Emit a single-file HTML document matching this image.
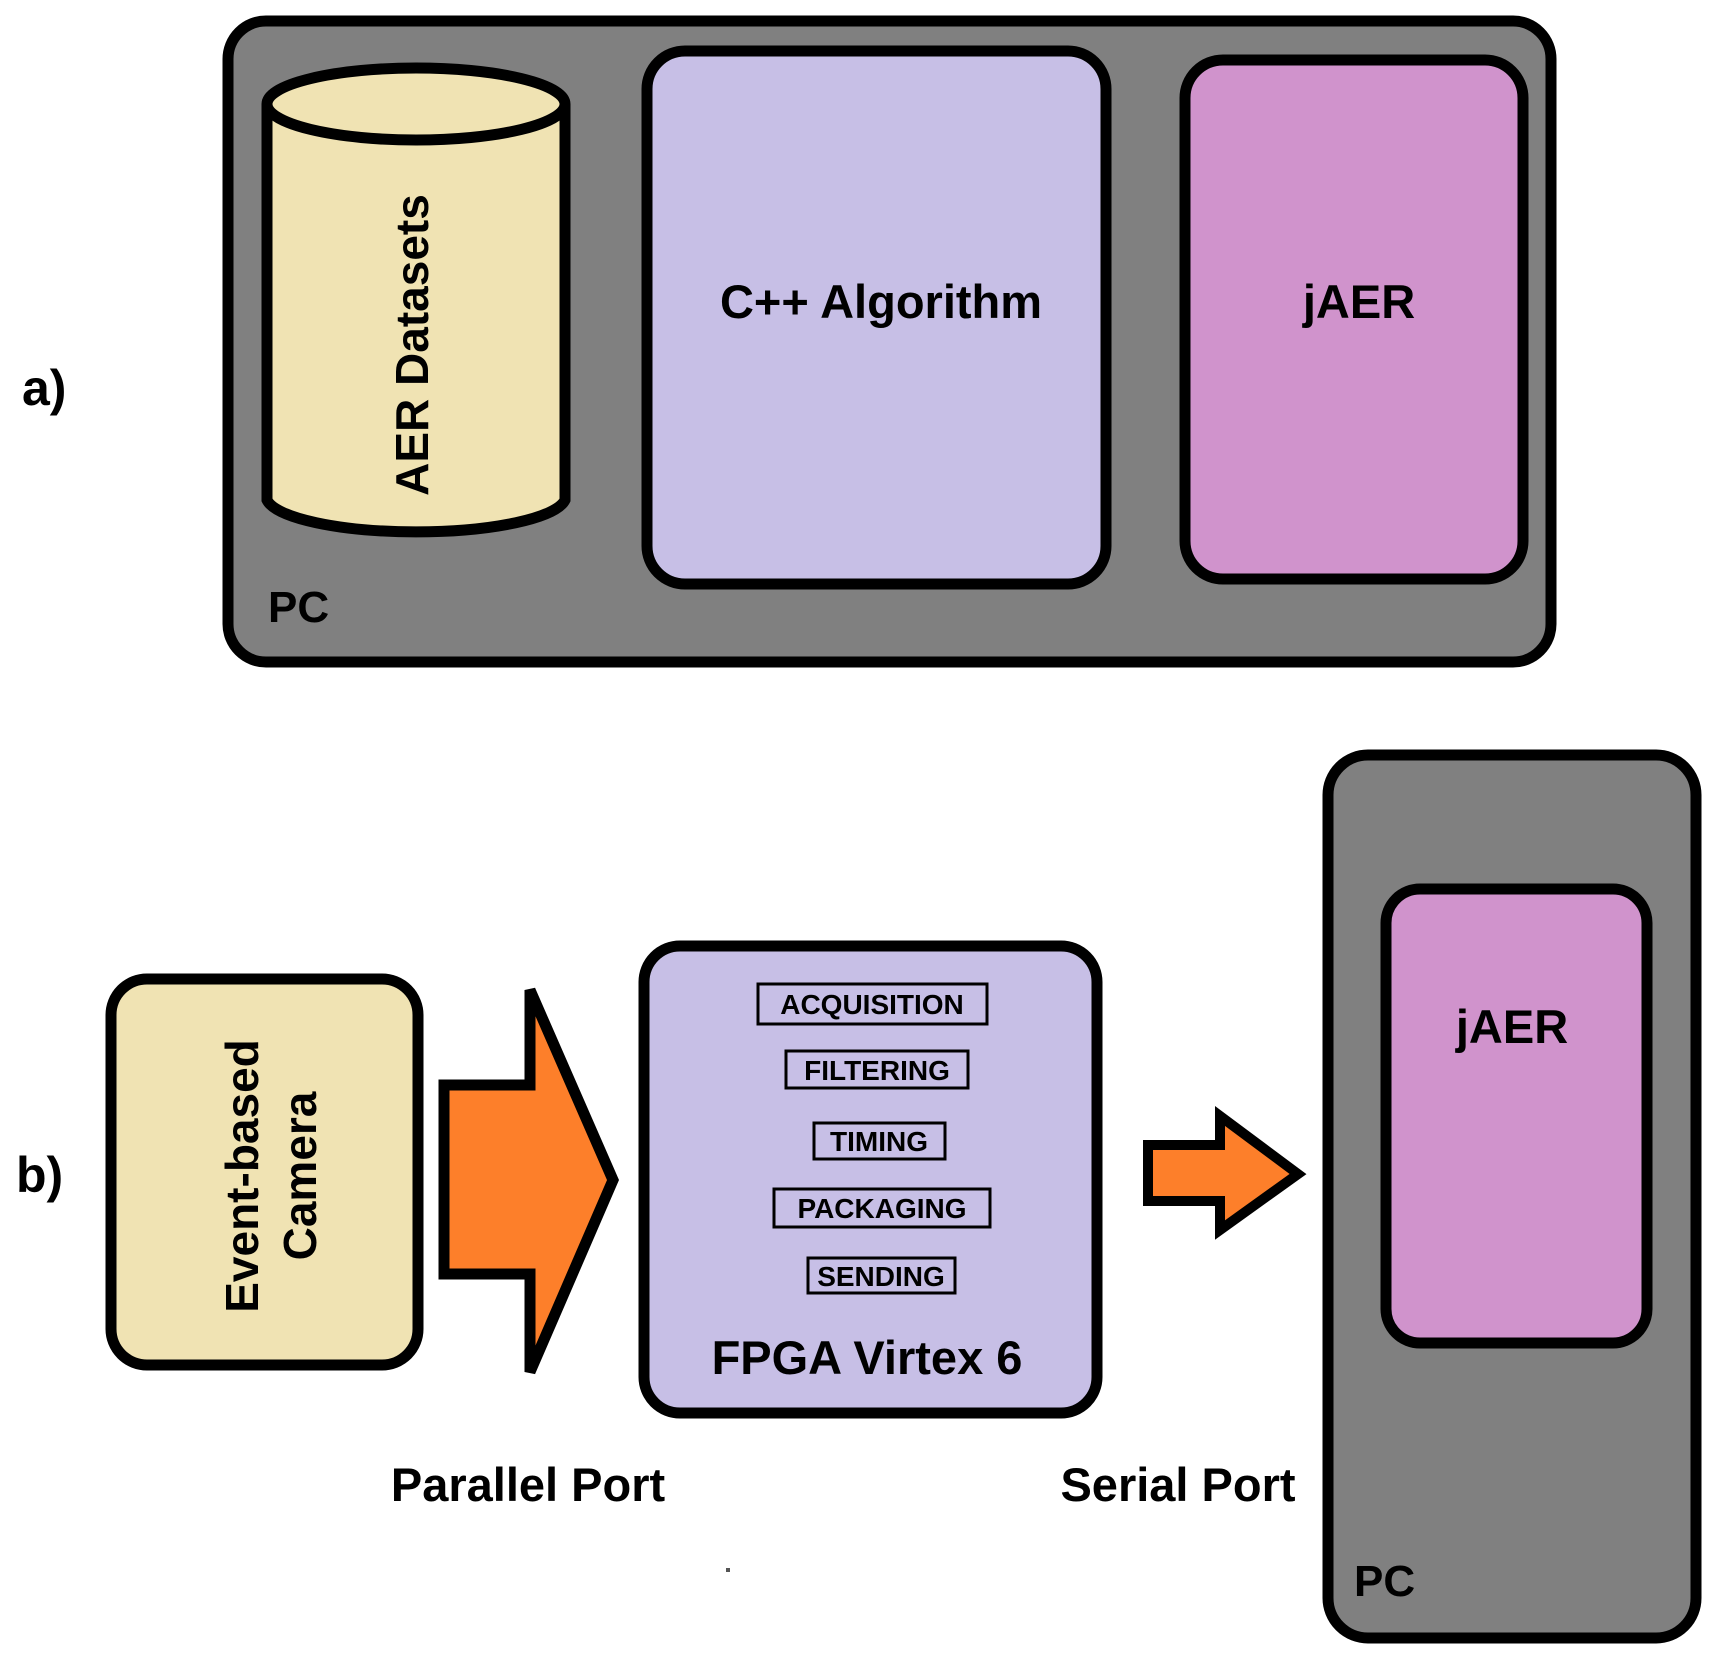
<!DOCTYPE html>
<html><head><style>body{margin:0;background:#fff}svg{display:block}</style></head><body>
<svg width="1721" height="1661" viewBox="0 0 1721 1661" xmlns="http://www.w3.org/2000/svg" font-family="Liberation Sans, Arial, sans-serif">
<rect x="228" y="21" width="1323" height="641" rx="38" fill="#808080" stroke="#000" stroke-width="11"/>
<path d="M267 104 L267 500 A150 36 0 0 0 565 500 L565 104" fill="#f0e3b3" stroke="#000" stroke-width="11"/>
<ellipse cx="416" cy="104" rx="149" ry="36" fill="#f0e3b3" stroke="#000" stroke-width="11"/>
<text transform="translate(428,345) rotate(-90)" text-anchor="middle" font-size="46" font-weight="bold" fill="#000">AER Datasets</text>
<rect x="647" y="51" width="459" height="533" rx="38" fill="#c7bfe6" stroke="#000" stroke-width="11"/>
<text x="881" y="318" text-anchor="middle" font-size="47" font-weight="bold" fill="#000">C++ Algorithm</text>
<rect x="1185" y="60" width="338" height="519" rx="38" fill="#d093cc" stroke="#000" stroke-width="11"/>
<text x="1359" y="318" text-anchor="middle" font-size="47" font-weight="bold" fill="#000">jAER</text>
<text x="268" y="622" font-size="44" font-weight="bold" fill="#000">PC</text>
<text x="22" y="405" font-size="50" font-weight="bold" fill="#000">a)</text>

<rect x="1328" y="755" width="368" height="883" rx="40" fill="#808080" stroke="#000" stroke-width="11"/>
<rect x="1386" y="889" width="261" height="454" rx="34" fill="#d093cc" stroke="#000" stroke-width="11"/>
<text x="1512" y="1043" text-anchor="middle" font-size="47" font-weight="bold" fill="#000">jAER</text>
<text x="1354" y="1596" font-size="44" font-weight="bold" fill="#000">PC</text>

<rect x="111" y="979" width="307" height="386" rx="36" fill="#f0e3b3" stroke="#000" stroke-width="11"/>
<text transform="translate(258,1176) rotate(-90)" text-anchor="middle" font-size="46" font-weight="bold" fill="#000">Event-based</text>
<text transform="translate(316,1176) rotate(-90)" text-anchor="middle" font-size="46" font-weight="bold" fill="#000">Camera</text>
<text x="16" y="1192" font-size="50" font-weight="bold" fill="#000">b)</text>

<polygon points="444,1085 530,1085 530,990 613,1180 530,1372 530,1274 444,1274" fill="#fd7f2a" stroke="#000" stroke-width="11" stroke-linejoin="miter"/>

<rect x="644" y="946" width="453" height="467" rx="36" fill="#c7bfe6" stroke="#000" stroke-width="11"/>
<g font-size="28" font-weight="bold" fill="#000" text-anchor="middle">
<rect x="758" y="984" width="229" height="40" fill="none" stroke="#000" stroke-width="3"/>
<text x="872" y="1014">ACQUISITION</text>
<rect x="786" y="1051" width="182" height="37" fill="none" stroke="#000" stroke-width="3"/>
<text x="877" y="1080">FILTERING</text>
<rect x="814" y="1123" width="131" height="36" fill="none" stroke="#000" stroke-width="3"/>
<text x="879" y="1151">TIMING</text>
<rect x="774" y="1189" width="216" height="38" fill="none" stroke="#000" stroke-width="3"/>
<text x="882" y="1218">PACKAGING</text>
<rect x="808" y="1258" width="147" height="35" fill="none" stroke="#000" stroke-width="3"/>
<text x="881" y="1286">SENDING</text>
</g>
<text x="867" y="1374" text-anchor="middle" font-size="47" font-weight="bold" fill="#000">FPGA Virtex 6</text>

<polygon points="1148,1145 1220,1145 1220,1116 1298,1174 1220,1230 1220,1201 1148,1201" fill="#fd7f2a" stroke="#000" stroke-width="10"/>

<text x="528" y="1501" text-anchor="middle" font-size="47" font-weight="bold" fill="#000">Parallel Port</text>
<text x="1178" y="1501" text-anchor="middle" font-size="47" font-weight="bold" fill="#000">Serial Port</text>
<rect x="726" y="1568" width="4" height="4" fill="#555"/>
</svg>
</body></html>
